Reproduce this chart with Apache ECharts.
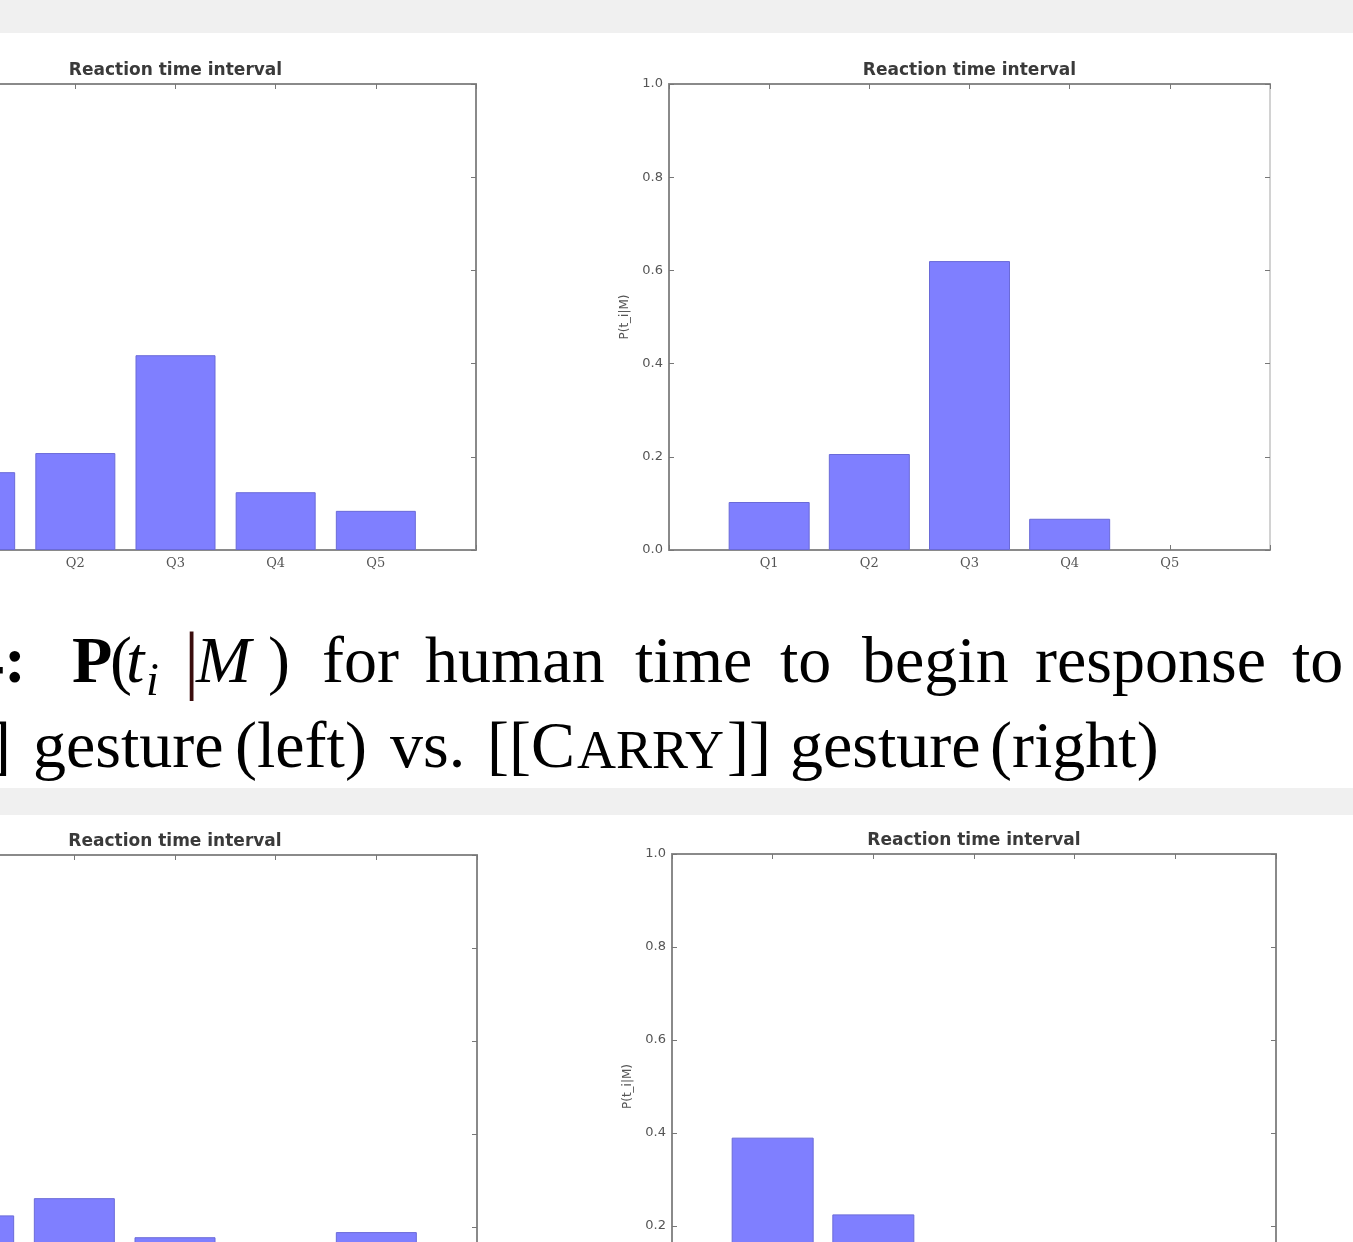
<!DOCTYPE html>
<html><head><meta charset="utf-8">
<script src="https://cdn.jsdelivr.net/npm/echarts@6/dist/echarts.min.js"></script>
<style>html,body{margin:0;padding:0;background:#fff;overflow:hidden}#c{width:1353px;height:1242px}</style>
</head><body><div id="c"></div>
<script>
// ---- data ----
const categories = ['Q1', 'Q2', 'Q3', 'Q4', 'Q5'];
const yTickValues = [0, 0.2, 0.4, 0.6, 0.8, 1.0];
const pointTopValues = [0.167, 0.208, 0.418, 0.124, 0.084];
const carryTopValues = [0.103, 0.206, 0.620, 0.067, 0.0];
const pointBottomValues = [0.225, 0.262, 0.178, 0.146, 0.189];
const carryBottomValues = [0.390, 0.225, 0.150, 0.130, 0.105];
const chartTitle = 'Reaction time interval';
const yAxisName = 'P(t_i|M)';

// ---- layout ----
const panels = [
  {values: pointTopValues, left: -125, top: 84, width: 601, height: 466, barWidth: 80, rightColor: '#8a8a8a'},
  {values: carryTopValues, left: 669, top: 84, width: 601, height: 466, barWidth: 81, rightColor: '#d2d2d2'},
  {values: pointBottomValues, left: -127, top: 855, width: 604, height: 465, barWidth: 81, rightColor: '#8a8a8a'},
  {values: carryBottomValues, left: 672, top: 854, width: 604, height: 465, barWidth: 82, rightColor: '#8a8a8a'}
];
const axisData = [''].concat(categories, ['']);
const spine = '#8a8a8a';

const option = {
  animation: false,
  backgroundColor: '#ffffff',
  title: [], grid: [], xAxis: [], yAxis: [], series: [], graphic: []
};

panels.forEach((p, i) => {
  option.grid.push({left: p.left, top: p.top, width: p.width, height: p.height,
    containLabel: false, outerBoundsMode: 'none'});
  option.title.push({
    text: chartTitle, left: p.left + p.width / 2, textAlign: 'center', top: p.top - 22, padding: 0,
    textStyle: {fontFamily: 'DejaVu Sans', fontSize: 17, fontWeight: 'bold', color: '#3a3a3a'}
  });
  option.xAxis.push({
    type: 'category', gridIndex: i, data: axisData, boundaryGap: false, position: 'bottom',
    axisLine: {show: true, onZero: false, lineStyle: {color: spine, width: 2}},
    axisTick: {show: true, inside: true, length: 5, lineStyle: {color: '#777'}},
    axisLabel: {show: true, interval: 0, margin: 7, fontFamily: 'DejaVu Serif', fontSize: 13, color: '#555'},
    splitLine: {show: false}
  });
  option.xAxis.push({
    type: 'category', gridIndex: i, data: axisData, boundaryGap: false, position: 'top',
    axisLine: {show: true, onZero: false, lineStyle: {color: spine, width: 2}},
    axisTick: {show: true, inside: true, length: 5, lineStyle: {color: '#777'}},
    axisLabel: {show: false}, splitLine: {show: false}
  });
  option.yAxis.push({
    type: 'value', gridIndex: i, min: yTickValues[0], max: yTickValues[yTickValues.length - 1], interval: 0.2,
    position: 'left',
    name: yAxisName, nameLocation: 'middle', nameRotate: 90, nameGap: 38,
    nameTextStyle: {fontFamily: 'DejaVu Sans', fontSize: 12, color: '#555'},
    axisLine: {show: true, onZero: false, lineStyle: {color: spine, width: 2}},
    axisTick: {show: true, inside: true, length: 5, lineStyle: {color: '#777'}},
    axisLabel: {show: true, margin: 6, fontFamily: 'DejaVu Sans', fontSize: 13, color: '#555',
      formatter: v => v.toFixed(1)},
    splitLine: {show: false}
  });
  option.yAxis.push({
    type: 'value', gridIndex: i, min: 0, max: 1, interval: 0.2, position: 'right',
    axisLine: {show: true, onZero: false, lineStyle: {color: p.rightColor, width: 2}},
    axisTick: {show: true, inside: true, length: 5, lineStyle: {color: '#777'}},
    axisLabel: {show: false}, splitLine: {show: false}
  });
  option.series.push({
    type: 'bar', xAxisIndex: 2 * i, yAxisIndex: 2 * i, barWidth: p.barWidth,
    data: [null].concat(p.values.map(v => v === 0 ? {value: 0, itemStyle: {borderWidth: 0}} : v), [null]),
    itemStyle: {color: '#7f7fff', borderColor: '#6a6ad8', borderWidth: 1},
    z: 1
  });
});

// gray page bands
option.graphic.push({type: 'rect', z: -10, shape: {x: 0, y: 0, width: 1353, height: 33}, style: {fill: '#f0f0f0'}});
option.graphic.push({type: 'rect', z: -10, shape: {x: 0, y: 788, width: 1353, height: 27}, style: {fill: '#f0f0f0'}});

// caption words
const CAP = 66;
function word(x, baseline, text, o) {
  o = o || {};
  const size = o.size || CAP;
  option.graphic.push({
    type: 'text', x: x, y: baseline - 0.305 * size, z: 10,
    style: {
      text: text, fill: o.color || '#000', font: (o.style || 'normal') + ' ' + (o.weight || 'normal') + ' ' + size + 'px "Liberation Serif"',
      textAlign: o.align || 'left', textVerticalAlign: 'middle'
    }
  });
}
const B1 = 685, B2 = 770;
word(26, B1, '4:', {align: 'right', weight: 'bold'});
word(72, B1, 'P', {weight: 'bold'});
word(110, B1, '(');
word(126, B1, 't', {style: 'italic'});
word(146, B1 + 12, 'i', {style: 'italic', size: 46});
word(184, B1 + 3, '|', {size: 76, color: '#3a0d0d'});
word(196, B1, 'M', {style: 'italic'});
word(268, B1, ')');
word(322, B1, 'for');
word(425, B1, 'human');
word(635, B1, 'time');
word(780, B1, 'to');
word(862, B1, 'begin');
word(1035, B1, 'response');
word(1292, B1, 'to');

word(11, B2, ']', {align: 'right'});
word(33, B2, 'gesture');
word(235, B2, '(left)');
word(390, B2, 'vs.');
word(487, B2, '[[C');
word(577, B2, 'ARRY', {size: 54});
word(771, B2, ']]', {align: 'right'});
word(790, B2, 'gesture');
word(990, B2, '(right)');

const chart = echarts.init(document.getElementById('c'), null, {renderer: 'canvas'});
chart.setOption(option);
</script></body></html>
